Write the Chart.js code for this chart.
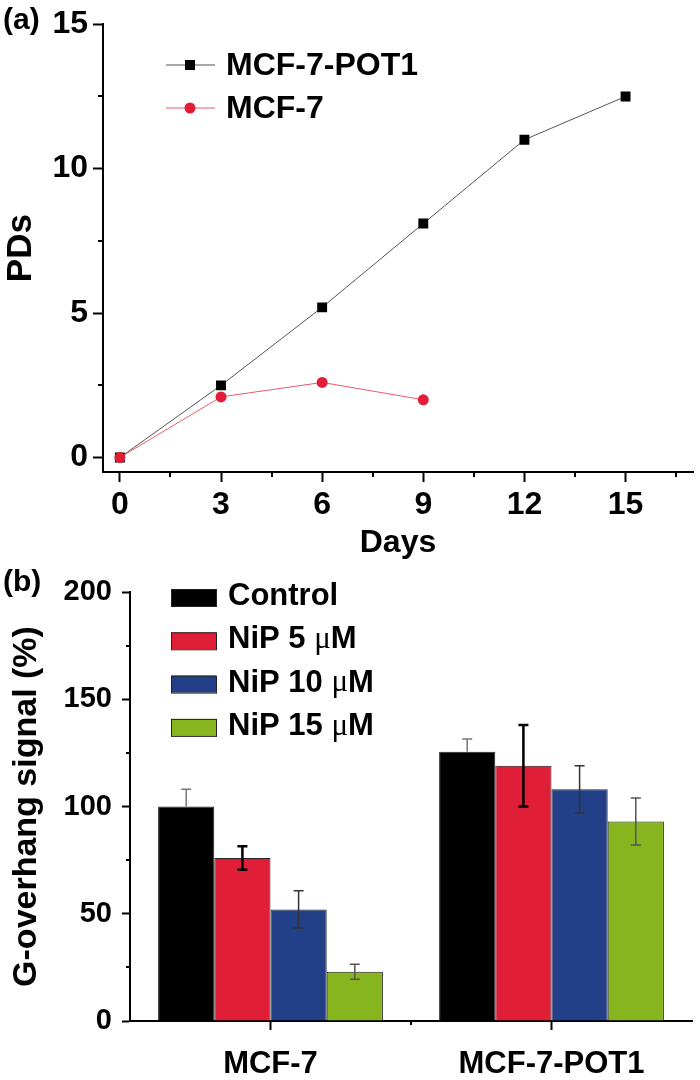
<!DOCTYPE html>
<html>
<head>
<meta charset="utf-8">
<script src="https://cdn.jsdelivr.net/npm/chart.js@4.4.0/dist/chart.umd.min.js"></script>
<style>
  body { margin: 0; background: #fff; }
  #wrap { position: relative; width: 700px; height: 1080px; }
  #chartA { position: absolute; left: 0; top: 0; }
  #chartB { position: absolute; left: 0; top: 560px; }
</style>
</head>
<body>
<div id="wrap">
  <canvas id="chartA" width="700" height="560"></canvas>
  <canvas id="chartB" width="700" height="520"></canvas>
</div>
<script>
const FONT = '"Liberation Sans", Arial, sans-serif';

// panel (a): population doublings over time
const days = [0, 3, 6, 9, 12, 15];
const pdsPot1 = [0, 2.5, 5.2, 8.1, 11.0, 12.5];
const pdsMcf7 = [0, 2.1, 2.6, 2.0];
const dayTicks = [0, 3, 6, 9, 12, 15];
const dayMinor = [1.5, 4.5, 7.5, 10.5, 13.5, 16.5];
const pdTicks = [0, 5, 10, 15];
const pdMinor = [2.5, 7.5, 12.5];

// panel (b): G-overhang signal
const cellLines = ['MCF-7', 'MCF-7-POT1'];
const treatments = ['Control', 'NiP 5 μM', 'NiP 10 μM', 'NiP 15 μM'];
const control = [100, 125.5];
const nip5 = [76, 119];
const nip10 = [52, 108];
const nip15 = [23, 93];
const errPlus = [[8, 6], [5.5, 19], [8.7, 11], [3.5, 11]];
const errMinus = [[0, 0], [5.5, 19], [8.7, 11], [3.5, 11]];
const signalTicks = [0, 50, 100, 150, 200];
const signalMinor = [25, 75, 125, 175];
const groupMinor = [0.5];

const barColors = ['#000000', '#e01e37', '#233f88', '#86b51e'];
const errColors = ['#777777', '#000000', '#333333', '#555555'];
const errWidths = [1.5, 2.5, 1.5, 1.5];

// shorter ticks between the labelled ones
function minorTicks(spec) {
  return {
    id: 'minorTicks',
    afterDraw(chart) {
      const ctx = chart.ctx;
      ctx.save();
      ctx.strokeStyle = '#000';
      ctx.lineWidth = 2;
      Object.keys(spec).forEach(id => {
        const scale = chart.scales[id];
        const m = spec[id];
        m.values.forEach(v => {
          const p = Math.round(scale.getPixelForValue(v));
          ctx.beginPath();
          if (scale.isHorizontal()) {
            ctx.moveTo(p, scale.top);
            ctx.lineTo(p, scale.top + m.len);
          } else {
            ctx.moveTo(scale.right, p);
            ctx.lineTo(scale.right - m.len, p);
          }
          ctx.stroke();
        });
      });
      ctx.restore();
    }
  };
}

function panelLetter(text, x, y) {
  return {
    id: 'panelLetter',
    afterDraw(chart) {
      const ctx = chart.ctx;
      ctx.save();
      ctx.fillStyle = '#000';
      ctx.font = 'bold 30px ' + FONT;
      ctx.textBaseline = 'middle';
      ctx.fillText(text, x, y);
      ctx.restore();
    }
  };
}

const legendA = {
  id: 'legendA',
  afterDraw(chart) {
    const ctx = chart.ctx;
    const rows = [65, 108];
    ctx.save();
    chart.data.datasets.forEach((ds, i) => {
      const y = rows[i];
      ctx.strokeStyle = ds.borderColor;
      ctx.lineWidth = 1;
      ctx.beginPath();
      ctx.moveTo(166, y);
      ctx.lineTo(215, y);
      ctx.stroke();
      ctx.fillStyle = ds.pointBackgroundColor;
      if (ds.pointStyle === 'rect') {
        ctx.fillRect(185, y - 5, 10, 10);
      } else {
        ctx.beginPath();
        ctx.arc(190, y, 5.5, 0, Math.PI * 2);
        ctx.fill();
      }
      ctx.fillStyle = '#000';
      ctx.font = 'bold 32px ' + FONT;
      ctx.textBaseline = 'middle';
      ctx.fillText(ds.label, 226, y + 1);
    });
    ctx.restore();
  }
};

function drawMuLabel(ctx, text, x, y) {
  const parts = text.split('μ');
  ctx.font = 'bold 31px ' + FONT;
  ctx.fillText(parts[0], x, y);
  if (parts.length < 2) return;
  x += ctx.measureText(parts[0]).width;
  ctx.font = '31px "Liberation Serif", serif';
  ctx.fillText('μ', x, y);
  x += ctx.measureText('μ').width;
  ctx.font = 'bold 31px ' + FONT;
  ctx.fillText(parts[1], x, y);
}

const legendB = {
  id: 'legendB',
  afterDraw(chart) {
    const ctx = chart.ctx;
    ctx.save();
    chart.data.datasets.forEach((ds, i) => {
      const y = 37.5 + i * 43.3;
      ctx.fillStyle = ds.backgroundColor;
      ctx.fillRect(171, y - 8.5, 45, 17);
      ctx.strokeStyle = '#222';
      ctx.lineWidth = 1;
      ctx.strokeRect(171.5, y - 8, 45, 17);
      ctx.fillStyle = '#000';
      ctx.textBaseline = 'middle';
      drawMuLabel(ctx, ds.label, 228, y - 1);
    });
    ctx.restore();
  }
};

const errorBars = {
  id: 'errorBars',
  afterDatasetsDraw(chart) {
    const ctx = chart.ctx;
    const yScale = chart.scales.y;
    ctx.save();
    chart.data.datasets.forEach((ds, i) => {
      const meta = chart.getDatasetMeta(i);
      meta.data.forEach((bar, j) => {
        const v = ds.data[j];
        const top = yScale.getPixelForValue(v + errPlus[i][j]);
        const bot = yScale.getPixelForValue(v - errMinus[i][j]);
        ctx.strokeStyle = errColors[i];
        ctx.lineWidth = errWidths[i];
        ctx.beginPath();
        ctx.moveTo(bar.x, top);
        ctx.lineTo(bar.x, bot);
        ctx.moveTo(bar.x - 5, top);
        ctx.lineTo(bar.x + 5, top);
        if (errMinus[i][j] > 0) {
          ctx.moveTo(bar.x - 5, bot);
          ctx.lineTo(bar.x + 5, bot);
        }
        ctx.stroke();
      });
    });
    ctx.restore();
  }
};

const axisGrid = len => ({ drawOnChartArea: false, tickLength: len, tickWidth: 2, tickColor: '#000' });
const axisBorder = { display: true, width: 2, color: '#000' };

new Chart(document.getElementById('chartA'), {
  type: 'line',
  data: {
    datasets: [
      {
        label: 'MCF-7-POT1',
        data: days.map((d, i) => ({ x: d, y: pdsPot1[i] })),
        borderColor: '#555555',
        borderWidth: 1,
        pointStyle: 'rect',
        pointRadius: 7,
        pointBackgroundColor: '#000000',
        pointBorderColor: '#000000',
        pointBorderWidth: 0,
        order: 1
      },
      {
        label: 'MCF-7',
        data: pdsMcf7.map((v, i) => ({ x: days[i], y: v })),
        borderColor: '#ec5a66',
        borderWidth: 1,
        pointStyle: 'circle',
        pointRadius: 5.5,
        pointBackgroundColor: '#e21d38',
        pointBorderColor: '#e21d38',
        pointBorderWidth: 0,
        order: 0
      }
    ]
  },
  options: {
    responsive: false,
    animation: false,
    layout: { padding: { top: 20, right: 5, left: 0, bottom: 0 } },
    plugins: { legend: { display: false }, tooltip: { enabled: false } },
    scales: {
      x: {
        type: 'linear',
        min: -0.5,
        max: 17,
        afterBuildTicks: s => { s.ticks = dayTicks.map(v => ({ value: v })); },
        afterFit: s => { s.height = 88; },
        grid: axisGrid(10),
        border: axisBorder,
        ticks: { color: '#000', font: { family: FONT, size: 32, weight: 'bold' }, padding: 4, maxRotation: 0 },
        title: { display: true, text: 'Days', color: '#000', font: { family: FONT, size: 32, weight: 'bold', lineHeight: 1 }, padding: { top: 0, bottom: 1 } }
      },
      y: {
        min: -0.5,
        max: 15,
        afterBuildTicks: s => { s.ticks = pdTicks.map(v => ({ value: v })); },
        afterFit: s => { s.width = 103; },
        grid: axisGrid(10),
        border: axisBorder,
        ticks: { color: '#000', font: { family: FONT, size: 32, weight: 'bold' }, padding: 5 },
        title: { display: true, text: 'PDs', color: '#000', font: { family: FONT, size: 35, weight: 'bold', lineHeight: 1 }, padding: { top: 4, bottom: 0 } }
      }
    }
  },
  plugins: [minorTicks({ x: { values: dayMinor, len: 5 }, y: { values: pdMinor, len: 5 } }), legendA, panelLetter('(a)', 3, 21)]
});

new Chart(document.getElementById('chartB'), {
  type: 'bar',
  data: {
    labels: cellLines,
    datasets: [control, nip5, nip10, nip15].map((vals, i) => ({
      label: treatments[i],
      data: vals,
      backgroundColor: barColors[i],
      borderColor: '#222222',
      borderWidth: 1,
      categoryPercentage: 0.8,
      barPercentage: 1.0
    }))
  },
  options: {
    responsive: false,
    animation: false,
    layout: { padding: { top: 32, right: 8, left: 0, bottom: 0 } },
    plugins: { legend: { display: false }, tooltip: { enabled: false } },
    scales: {
      x: {
        afterFit: s => { s.height = 59; },
        grid: Object.assign(axisGrid(9), { offset: false }),
        border: axisBorder,
        ticks: { color: '#000', font: { family: FONT, size: 31, weight: 'bold' }, padding: 16, maxRotation: 0 },
      },
      y: {
        min: 0,
        max: 200,
        afterBuildTicks: s => { s.ticks = signalTicks.map(v => ({ value: v })); },
        afterFit: s => { s.width = 130; },
        grid: axisGrid(8),
        border: axisBorder,
        ticks: { color: '#000', font: { family: FONT, size: 29, weight: 'bold' }, padding: 10 },
        title: { display: true, text: 'G-overhang signal (%)', color: '#000', font: { family: FONT, size: 34, weight: 'bold', lineHeight: 1 }, padding: { top: 10, bottom: 0 } }
      }
    }
  },
  plugins: [errorBars, minorTicks({ x: { values: groupMinor, len: 4 }, y: { values: signalMinor, len: 4 } }), legendB, panelLetter('(b)', 3, 23)]
});
</script>
</body>
</html>
